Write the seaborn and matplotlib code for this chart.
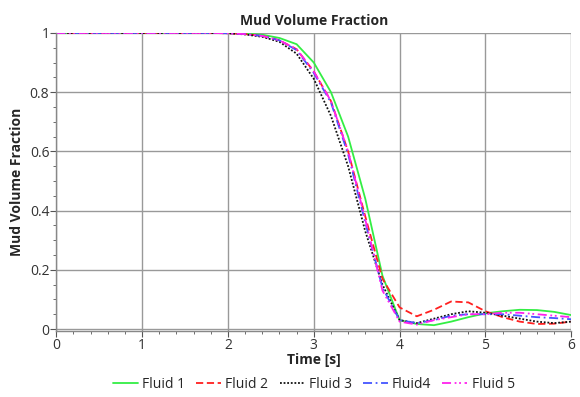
import matplotlib
matplotlib.use('Agg')
import matplotlib.pyplot as plt
import seaborn as sns
import pandas as pd
from matplotlib.ticker import MultipleLocator

time = [0.0, 0.2, 0.4, 0.6, 0.8, 1.0, 1.2, 1.4, 1.6, 1.8, 2.0, 2.2, 2.4, 2.6, 2.8,
        3.0, 3.2, 3.4, 3.6, 3.8, 4.0, 4.2, 4.4, 4.6, 4.8, 5.0, 5.2, 5.4, 5.6, 5.8, 6.0]

fluid1 = [1, 1, 1, 1, 1, 1, 1, 1, 1, 1, 1.0, 0.998, 0.994, 0.983, 0.962,
          0.90, 0.80, 0.65, 0.44, 0.18, 0.03, 0.017, 0.013, 0.025, 0.04,
          0.053, 0.06, 0.065, 0.064, 0.058, 0.047]
fluid2 = [1, 1, 1, 1, 1, 1, 1, 1, 1, 1, 0.999, 0.996, 0.99, 0.975, 0.945,
          0.87, 0.77, 0.60, 0.38, 0.17, 0.073, 0.043, 0.065, 0.093, 0.09,
          0.06, 0.04, 0.025, 0.017, 0.018, 0.025]
fluid3 = [1, 1, 1, 1, 1, 1, 1, 1, 1, 1, 0.999, 0.995, 0.987, 0.97, 0.93,
          0.845, 0.72, 0.55, 0.33, 0.15, 0.03, 0.02, 0.035, 0.05, 0.06,
          0.055, 0.045, 0.035, 0.025, 0.02, 0.025]
fluid4 = [1, 1, 1, 1, 1, 1, 1, 1, 1, 1, 0.999, 0.996, 0.99, 0.975, 0.942,
          0.865, 0.765, 0.59, 0.36, 0.14, 0.03, 0.02, 0.03, 0.045, 0.05,
          0.05, 0.05, 0.045, 0.04, 0.037, 0.033]
fluid5 = [1, 1, 1, 1, 1, 1, 1, 1, 1, 1, 0.999, 0.996, 0.99, 0.975, 0.945,
          0.87, 0.77, 0.60, 0.37, 0.13, 0.025, 0.015, 0.03, 0.04, 0.05,
          0.05, 0.055, 0.055, 0.05, 0.045, 0.04]

labels = ['Fluid 1', 'Fluid 2', 'Fluid 3', 'Fluid4', 'Fluid 5']
colors = ['#33ee44', '#ff2020', '#111111', '#4455ff', '#ff22ee']
styles = ['-', (0, (4, 2)), (0, (1, 1)), (0, (5, 2, 1, 2)), (0, (5, 2, 1, 1.5, 1, 2))]

sns.set_style('white')
plt.rcParams['font.family'] = ['Open Sans', 'DejaVu Sans']

fig = plt.figure(figsize=(5.8, 3.97), dpi=100)
ax = fig.add_axes([0.097, 0.166, 0.888, 0.751])

for vals, lab, col, ls in zip([fluid1, fluid2, fluid3, fluid4, fluid5], labels, colors, styles):
    df = pd.DataFrame({'t': time, 'v': vals})
    sns.lineplot(data=df, x='t', y='v', ax=ax, color=col, linestyle=ls, linewidth=1.3, label=lab)

ax.set_xlim(0, 6)
ax.set_ylim(-0.007, 1.0)
ax.set_xticks([0, 1, 2, 3, 4, 5, 6])
ax.set_yticks([0, 0.2, 0.4, 0.6, 0.8, 1.0])
ax.set_yticklabels(['0', '0.2', '0.4', '0.6', '0.8', '1'])
ax.xaxis.set_minor_locator(MultipleLocator(0.2))
ax.yaxis.set_minor_locator(MultipleLocator(0.05))
ax.tick_params(which='major', direction='out', length=4, width=0.8, color='#555555',
               labelsize=10, labelcolor='#333333', pad=1, bottom=True, left=True)
ax.tick_params(which='minor', direction='out', length=2, width=0.6, color='#555555',
               bottom=True, left=True)
ax.grid(True, which='major', color='#999999', linewidth=1)
for s in ['top', 'right']:
    ax.spines[s].set_visible(False)
for s in ['left', 'bottom']:
    ax.spines[s].set_color('#888888')
    ax.spines[s].set_linewidth(1)

ax.set_title('Mud Volume Fraction', fontsize=10, fontweight='bold', pad=6)
ax.set_xlabel('Time [s]', fontsize=10, fontweight='bold', labelpad=0)
ax.set_ylabel('Mud Volume Fraction', fontsize=10, fontweight='bold', labelpad=4)

ax.legend(loc='center', bbox_to_anchor=(0.5, -0.178), ncol=5, frameon=False,
          fontsize=10, handlelength=1.8, handletextpad=0.3, columnspacing=0.8)

plt.savefig('out.png', dpi=100)
